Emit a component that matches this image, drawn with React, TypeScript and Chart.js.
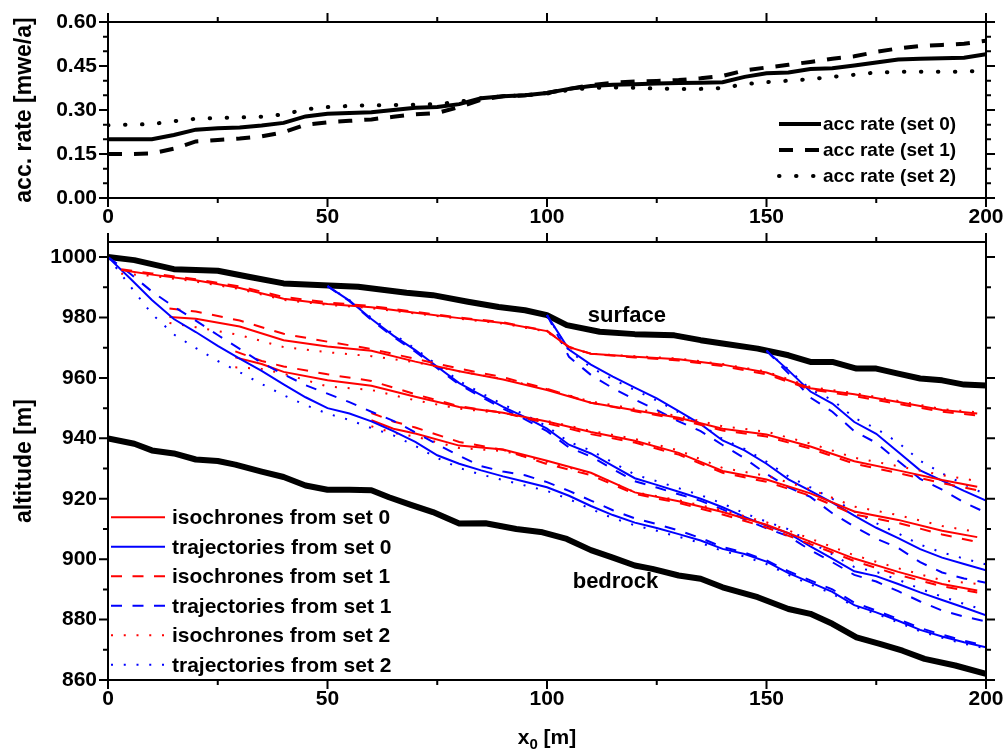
import { useEffect, useRef } from 'react';
import { Chart, registerables } from 'chart.js';

Chart.register(...registerables);

const FONT_FAMILY = '"Liberation Sans", Arial, Helvetica, sans-serif';

// ---------- accumulation rate panel ----------
const ACC_X = [0, 5, 10, 15, 20, 25, 30, 35, 40, 45, 50, 55, 60, 65, 70, 75, 80, 85, 90, 95, 100,
  105, 110, 115, 120, 125, 130, 135, 140, 145, 150, 155, 160, 165, 170, 175, 180, 185, 190, 195, 200];
const ACC_SET0 = [0.200, 0.200, 0.200, 0.215, 0.233, 0.238, 0.240, 0.247, 0.256, 0.278, 0.287, 0.290, 0.292,
  0.300, 0.308, 0.310, 0.320, 0.340, 0.347, 0.350, 0.358, 0.372, 0.382, 0.386, 0.388, 0.390, 0.392, 0.393,
  0.395, 0.413, 0.425, 0.428, 0.440, 0.442, 0.452, 0.462, 0.472, 0.475, 0.476, 0.478, 0.490];
const ACC_SET1 = [0.150, 0.150, 0.152, 0.168, 0.193, 0.198, 0.203, 0.210, 0.224, 0.250, 0.258, 0.263, 0.268,
  0.277, 0.285, 0.290, 0.310, 0.335, 0.347, 0.350, 0.358, 0.372, 0.385, 0.393, 0.397, 0.399, 0.402, 0.408,
  0.416, 0.435, 0.445, 0.454, 0.464, 0.475, 0.483, 0.498, 0.510, 0.518, 0.522, 0.526, 0.536];
const ACC_SET2 = [0.248, 0.250, 0.252, 0.262, 0.270, 0.273, 0.275, 0.277, 0.285, 0.302, 0.310, 0.314, 0.316,
  0.317, 0.318, 0.320, 0.328, 0.340, 0.347, 0.350, 0.356, 0.368, 0.375, 0.377, 0.376, 0.373, 0.372, 0.372,
  0.375, 0.388, 0.395, 0.400, 0.405, 0.413, 0.420, 0.428, 0.430, 0.430, 0.430, 0.431, 0.435];
const ACC_LABELS = ['acc rate (set 0)', 'acc rate (set 1)', 'acc rate (set 2)'];

// ---------- altitude panel ----------
const SURFACE_X = [0, 6, 15, 25, 32, 40, 49, 57, 68, 74, 82, 89, 95, 100, 104.5, 112, 120, 129, 135, 140,
  148, 155, 160, 165, 170.5, 175, 180, 185, 190, 195, 200];
const SURFACE_Z = [1000, 999, 996, 995.5, 993.5, 991.3, 990.7, 990.2, 988.2, 987.4, 985.2, 983.5, 982.4, 980.8,
  977.5, 975.3, 974.5, 974.1, 972.5, 971.4, 969.7, 967.5, 965.3, 965.3, 963.1, 963.1, 961.4, 959.8, 959.2,
  957.8, 957.5];
const BEDROCK_X = [0, 6, 10, 15, 20, 25, 29, 35, 40, 45, 50, 55, 60, 64, 69, 74, 80, 86, 93, 99, 104.5, 110,
  115, 120, 124, 130, 135, 140, 148, 155, 160, 165, 170.5, 176, 181, 186, 193, 200];
const BEDROCK_Z = [940, 938.2, 936, 935, 933, 932.5, 931.3, 929, 927.2, 924.4, 923, 923, 922.8, 920.5, 918,
  915.6, 911.8, 911.9, 910, 908.9, 906.7, 903, 900.5, 897.9, 896.8, 894.6, 893.5, 890.7, 887.4, 883.5, 881.9,
  878.6, 874.1, 871.9, 869.7, 867, 864.8, 862];
const SURFACE_NOTE = 'surface';
const BEDROCK_NOTE = 'bedrock';

// particle trajectories (starting points on the surface)
const TRAJ1_X = [0, 5, 10, 15, 20, 25, 30, 35, 40, 45, 50, 55, 60, 65, 70, 75, 80, 85, 90, 95, 100,
  105, 110, 115, 120, 125, 130, 135, 140, 145, 150, 155, 160, 165, 170, 175, 180, 185, 190, 195, 200];
const TRAJ1_SET0 = [1000, 993, 985.8, 979.5, 975.2, 970.6, 966.4, 962.3, 957.9, 953.6, 950.0, 948.2, 945.6,
  942.4, 938.8, 934.4, 931.6, 929.4, 927.4, 925.6, 923.8, 921.0, 917.6, 914.6, 912.1, 910.3, 908.3, 906.2,
  903.4, 901.7, 899.2, 895.4, 892.3, 889.2, 884.8, 882.4, 879.6, 876.6, 874.4, 872.5, 870.8];
const TRAJ1_SET1 = [1000, 994.6, 988.6, 983.6, 979, 974.2, 969.6, 965, 961.2, 957.6, 954.8, 952, 948.8, 945.8,
  942, 938, 934.2, 930.8, 929, 927.8, 925.5, 922.6, 919.4, 916.2, 913.5, 911.6, 909.5, 907, 904, 902.2, 899.6,
  896, 893, 890, 885.6, 883, 880.2, 877.2, 875, 873, 871.3];
const TRAJ1_SET2 = [1000, 990.5, 981.2, 974.4, 969.9, 965.6, 961.9, 958, 954.3, 951, 948.2, 946.1, 943.4, 941,
  937.5, 933.5, 930.2, 928, 926.2, 924.4, 922.6, 919.9, 916.6, 913.6, 911.2, 909.4, 907.4, 905.4, 902.7, 900.9,
  898.4, 894.8, 891.6, 888.6, 884.3, 881.9, 879.1, 876.1, 874, 872, 870.5];

const TRAJ2_X = [50, 55, 60, 65, 70, 75, 80, 85, 90, 95, 100, 105, 110, 115, 120, 125, 130, 135, 140, 145,
  150, 155, 160, 165, 170, 175, 180, 185, 190, 195, 200];
const TRAJ2_SET0 = [990.4, 985.6, 979.5, 974, 969.2, 963.7, 958.3, 954.3, 950.4, 947, 943.2, 937.9, 935, 930.9,
  926.8, 924.6, 922.3, 920, 917.2, 914, 911.1, 908.6, 904.2, 900.2, 896, 894.4, 891.8, 889, 886.5, 884, 881.4];
const TRAJ2_SET1 = [990.4, 985.4, 979.2, 973.6, 968.7, 963.2, 957.8, 953.7, 949.8, 946.3, 942.4, 937, 934, 929.8,
  925.8, 923.7, 921.5, 919.3, 916.5, 913.2, 910.2, 907.6, 903, 899, 894.8, 892.6, 889.4, 886, 883, 881, 879.4];
const TRAJ2_SET2 = [990.4, 985.8, 979.9, 974.5, 969.7, 964.3, 959, 955, 951.2, 947.8, 944, 938.8, 936, 932,
  928, 925.8, 923.5, 921.2, 918.4, 915.2, 912.4, 909.9, 905.6, 901.6, 897.4, 895.8, 893.2, 890.2, 887.6,
  885.2, 883];

const TRAJ3_X = [100, 105, 110, 115, 120, 125, 130, 135, 140, 145, 150, 155, 160, 165, 170, 175, 180, 185,
  190, 195, 200];
const TRAJ3_SET0 = [980.8, 969.4, 964.4, 960.4, 956.8, 953.2, 949, 944.7, 939.3, 936, 931.6, 926.4, 922.6,
  918.7, 914.4, 910.4, 907, 903.3, 900.5, 898.4, 896.3];
const TRAJ3_SET1 = [980.8, 967, 961, 956.6, 952.8, 949.4, 945.6, 942.4, 937.8, 933.4, 928.2, 923.8, 920.6,
  915.2, 910.8, 906.8, 903.7, 899, 895.6, 893.6, 892.2];
const TRAJ3_SET2 = [980.8, 969, 963.5, 959.5, 956, 952.5, 948.6, 944.6, 939.8, 936.5, 932.3, 927.4, 923.8,
  920, 915.8, 911.9, 908.5, 904.8, 902.2, 900.2, 898.3];

const TRAJ4_X = [150, 155, 160, 165, 170, 175, 180, 185, 190, 195, 200];
const TRAJ4_SET0 = [969, 962.5, 955.5, 951.5, 945.4, 941.5, 935.5, 929.4, 926, 922.6, 919.4];
const TRAJ4_SET1 = [969, 961.5, 953.5, 948.8, 942.4, 938.5, 932.5, 926.6, 923, 918.8, 915.4];
const TRAJ4_SET2 = [969, 962.8, 956.2, 952.7, 946.8, 943.2, 938.6, 932.6, 928.4, 924.8, 921.4];

// isochrones
const ISO1_X = [3, 10, 20, 30, 40, 50, 60, 70, 80, 90, 100, 105, 110, 120, 130, 140, 150, 160, 170, 180, 190, 198];
const ISO1_SET0 = [995.7, 994.2, 992.3, 989.8, 986.2, 984.5, 983.4, 981.6, 979.8, 978.2, 975.5, 970.2, 968, 967,
  966.2, 964.4, 961.8, 956.6, 954.6, 952, 949.4, 948.2];
const ISO1_SET1 = [996, 994.6, 992.7, 990.3, 986.8, 985, 983.8, 981.9, 980, 978.4, 975.6, 970.3, 968, 966.8,
  965.8, 963.9, 961.2, 956.2, 954, 951.4, 948.8, 947.6];
const ISO1_SET2 = [994.5, 993.8, 991.9, 989.4, 985.8, 984.2, 983.1, 981.3, 979.6, 978, 975.3, 970, 968, 967.2,
  966.4, 964.6, 962.1, 957, 955, 952.4, 949.7, 948.6];

const ISO2_X = [14, 20, 30, 40, 50, 60, 70, 80, 90, 100, 110, 120, 130, 140, 150, 160, 170, 180, 190, 198];
const ISO2_SET0 = [980.2, 979.6, 977, 972.5, 970.4, 969, 965.4, 962.2, 959.5, 956, 951.8, 949.3, 946.8, 943.2,
  941.3, 937.3, 932.4, 929.4, 926.2, 924];
const ISO2_SET1 = [983, 982, 979, 974.6, 972, 969.6, 966.3, 963.1, 960.2, 956.4, 951.8, 949, 946.3, 942.6,
  940.6, 936.6, 931.6, 928.5, 925.2, 922.8];
const ISO2_SET2 = [978.2, 976.8, 974.2, 970.2, 968.5, 967.2, 965.2, 962.2, 959.6, 956.3, 952.2, 949.8, 947.4,
  944, 942.2, 938.3, 933.6, 930.8, 927.8, 925.9];

const ISO3_X = [29, 35, 40, 50, 60, 70, 80, 90, 100, 110, 120, 130, 140, 150, 160, 170, 180, 190, 198];
const ISO3_SET0 = [966.8, 964.6, 962, 959.2, 957.4, 953.8, 950.4, 948.5, 945.6, 942.1, 939.2, 935.2, 929.2,
  926.4, 921.8, 915.8, 913, 909.4, 907.3];
const ISO3_SET1 = [968.8, 965.6, 963.8, 961.2, 959, 954.6, 950.6, 948.5, 945, 941.4, 938.6, 934.6, 928.6,
  925.6, 921, 914.8, 912, 908.2, 905.7];
const ISO3_SET2 = [963.5, 963, 961.4, 957.2, 956, 952.6, 949.8, 948.3, 945.8, 942.5, 939.8, 936, 930.2,
  927.6, 923.2, 917.4, 914.6, 911, 909];

const ISO4_X = [60, 65, 70, 80, 90, 100, 110, 120, 130, 140, 150, 160, 170, 180, 190, 198];
const ISO4_SET0 = [946, 943.2, 941.6, 937.6, 936.3, 932.6, 928.6, 922.1, 919.2, 915.6, 911.4, 905.8, 900.2,
  895.8, 891.8, 889.6];
const ISO4_SET1 = [948.4, 945.6, 943.6, 938.8, 936.2, 931.5, 927.8, 921.6, 918.6, 914.8, 910.5, 905, 899.4,
  894.8, 891, 889];
const ISO4_SET2 = [944, 941.8, 940.6, 936.8, 935.8, 932.2, 928.4, 922.2, 919.5, 916.2, 912.2, 906.8, 901.3,
  897, 893, 891.8];

// ---------- styling ----------
const RED = '#ff0000';
const BLUE = '#0000ff';
const SET_DASH: number[][] = [[], [11, 10.5], [2, 10.75]];

type Pt = { x: number; y: number };
const pts = (xs: number[], ys: number[]): Pt[] => xs.map((x, i) => ({ x, y: ys[i] }));

function profileLine(label: string, xs: number[], ys: number[], color: string, set: number, legendText?: string) {
  return {
    label,
    legendText,
    data: pts(xs, ys),
    borderColor: color,
    backgroundColor: color,
    borderWidth: 2,
    borderDash: SET_DASH[set],
    pointRadius: 0,
    tension: 0,
    fill: false,
    order: 1,
  };
}

function boundaryLine(label: string, xs: number[], ys: number[]) {
  return {
    label,
    data: pts(xs, ys),
    borderColor: '#000',
    backgroundColor: '#000',
    borderWidth: 6,
    borderJoinStyle: 'round',
    pointRadius: 0,
    tension: 0,
    fill: false,
    order: 5,
  };
}

// y tick labels sit 11px left of the axis; x tick labels are centred 19.5px below it
const yTickFont = { family: FONT_FAMILY, size: 21, weight: 'bold', lineHeight: 1 } as any;
const xTickFont = { family: FONT_FAMILY, size: 21, weight: 'bold', lineHeight: 39 / 21 } as any;
const titleFont = { family: FONT_FAMILY, size: 23, weight: 'bold' } as any;

// frame around the plot area with major/minor tick marks pointing outwards on every side
function makeFrameTicks(xMinor: number, yMinor: number) {
  const MAJOR = 9;
  const MINOR = 5;
  return {
    id: 'frameTicks',
    afterDraw(chart: any) {
      const { ctx, chartArea, scales } = chart;
      const { left, right, top, bottom } = chartArea;
      const sx = scales.x;
      const sy = scales.y;
      ctx.save();
      ctx.strokeStyle = '#000';
      ctx.lineWidth = 2;
      ctx.setLineDash([]);
      ctx.strokeRect(left, top, right - left, bottom - top);
      ctx.beginPath();
      const xMajor = sx.ticks.map((t: any) => t.value);
      const nx = Math.floor((sx.max - sx.min) / xMinor + 1e-6);
      for (let i = 0; i <= nx; i++) {
        const v = sx.min + i * xMinor;
        const len = xMajor.some((m: number) => Math.abs(m - v) < 1e-6) ? MAJOR : MINOR;
        const px = sx.getPixelForValue(v);
        ctx.moveTo(px, bottom);
        ctx.lineTo(px, bottom + len);
        ctx.moveTo(px, top);
        ctx.lineTo(px, top - len);
      }
      const yMajor = sy.ticks.map((t: any) => t.value);
      const ny = Math.floor((sy.max - sy.min) / yMinor + 1e-6);
      for (let i = 0; i <= ny; i++) {
        const v = sy.min + i * yMinor;
        const len = yMajor.some((m: number) => Math.abs(m - v) < 1e-6) ? MAJOR : MINOR;
        const py = sy.getPixelForValue(v);
        ctx.moveTo(left, py);
        ctx.lineTo(left - len, py);
        ctx.moveTo(right, py);
        ctx.lineTo(right + len, py);
      }
      ctx.stroke();
      ctx.restore();
    },
  };
}

// line-sample legend drawn inside the plot area
function makeLineLegend(cfg: { fromRight: boolean; dx: number; dy: number; row: number; sample: number; gap: number; size: number }) {
  return {
    id: 'lineLegend',
    afterDraw(chart: any) {
      const { ctx, chartArea } = chart;
      const items = chart.data.datasets.filter((d: any) => d.legendText);
      const x0 = cfg.fromRight ? chartArea.right - cfg.dx : chartArea.left + cfg.dx;
      ctx.save();
      ctx.font = `bold ${cfg.size}px ${FONT_FAMILY}`;
      ctx.textBaseline = 'middle';
      ctx.textAlign = 'left';
      items.forEach((d: any, i: number) => {
        const y = chartArea.top + cfg.dy + i * cfg.row;
        ctx.beginPath();
        ctx.setLineDash(d.borderDash || []);
        ctx.lineCap = d.borderCapStyle || 'butt';
        ctx.lineWidth = d.borderWidth;
        ctx.strokeStyle = d.borderColor;
        ctx.moveTo(x0, y);
        ctx.lineTo(x0 + cfg.sample, y);
        ctx.stroke();
        ctx.setLineDash([]);
        ctx.fillStyle = '#000';
        ctx.fillText(d.legendText, x0 + cfg.sample + cfg.gap, y + 1);
      });
      ctx.restore();
    },
  };
}

// text labels placed at data coordinates
function makeNotes(items: { text: string; x: number; y: number }[], size: number) {
  return {
    id: 'notes',
    afterDatasetsDraw(chart: any) {
      const { ctx, scales } = chart;
      ctx.save();
      ctx.font = `bold ${size}px ${FONT_FAMILY}`;
      ctx.fillStyle = '#000';
      ctx.textAlign = 'center';
      ctx.textBaseline = 'middle';
      items.forEach((n) => ctx.fillText(n.text, scales.x.getPixelForValue(n.x), scales.y.getPixelForValue(n.y)));
      ctx.restore();
    },
  };
}

// x-axis title with a subscript
function makeSubscriptTitle(base: string, sub: string, rest: string, offset: number) {
  return {
    id: 'subscriptTitle',
    afterDraw(chart: any) {
      const { ctx, chartArea } = chart;
      const cx = (chartArea.left + chartArea.right) / 2;
      const y = chartArea.bottom + offset;
      const mainFont = `bold 21px ${FONT_FAMILY}`;
      const subFont = `bold 15px ${FONT_FAMILY}`;
      ctx.save();
      ctx.fillStyle = '#000';
      ctx.textBaseline = 'alphabetic';
      ctx.textAlign = 'left';
      ctx.font = mainFont;
      const w1 = ctx.measureText(base).width;
      const w3 = ctx.measureText(rest).width;
      ctx.font = subFont;
      const w2 = ctx.measureText(sub).width;
      let x = cx - (w1 + w2 + w3) / 2;
      ctx.font = mainFont;
      ctx.fillText(base, x, y);
      x += w1;
      ctx.font = subFont;
      ctx.fillText(sub, x, y + 5);
      x += w2;
      ctx.font = mainFont;
      ctx.fillText(rest, x, y);
      ctx.restore();
    },
  };
}

function xScale(height: number) {
  return {
    type: 'linear',
    min: 0,
    max: 200,
    grid: { display: false, drawTicks: false },
    border: { display: false },
    ticks: { stepSize: 50, padding: 0, maxRotation: 0, color: '#000', font: xTickFont, callback: (v: any) => String(v) },
    afterFit: (s: any) => { s.height = height; },
  };
}

function topConfig(): any {
  const accLine = (label: string, ys: number[], dash: number[], cap: string) => ({
    label,
    legendText: label,
    data: pts(ACC_X, ys),
    borderColor: '#000',
    backgroundColor: '#000',
    borderWidth: 4,
    borderDash: dash,
    borderCapStyle: cap,
    pointRadius: 0,
    tension: 0,
    fill: false,
  });
  return {
    type: 'line',
    data: {
      datasets: [
        accLine(ACC_LABELS[0], ACC_SET0, [], 'butt'),
        accLine(ACC_LABELS[1], ACC_SET1, [14, 12], 'butt'),
        accLine(ACC_LABELS[2], ACC_SET2, [0.5, 16.5], 'round'),
      ],
    },
    options: {
      responsive: false,
      devicePixelRatio: 1,
      animation: false,
      events: [],
      layout: { padding: { top: 22, right: 19, left: 0, bottom: 0 } },
      plugins: { legend: { display: false }, tooltip: { enabled: false } },
      scales: {
        x: xScale(30),
        y: {
          type: 'linear',
          min: 0,
          max: 0.6,
          grid: { display: false, drawTicks: false },
          border: { display: false },
          ticks: { stepSize: 0.15, padding: 11, color: '#000', font: yTickFont, callback: (v: any) => Number(v).toFixed(2) },
          title: { display: true, text: 'acc. rate [mwe/a]', color: '#000', font: titleFont, padding: { top: 11, bottom: 0 } },
          afterFit: (s: any) => { s.width = 108; },
        },
      },
    },
    plugins: [
      makeFrameTicks(25, 0.05),
      makeLineLegend({ fromRight: true, dx: 207, dy: 102, row: 26, sample: 42, gap: 2, size: 19 }),
    ],
  };
}

function bottomConfig(): any {
  return {
    type: 'line',
    data: {
      datasets: [
        profileLine('isochrone 1, set 0', ISO1_X, ISO1_SET0, RED, 0, 'isochrones from set 0'),
        profileLine('trajectory 1, set 0', TRAJ1_X, TRAJ1_SET0, BLUE, 0, 'trajectories from set 0'),
        profileLine('isochrone 1, set 1', ISO1_X, ISO1_SET1, RED, 1, 'isochrones from set 1'),
        profileLine('trajectory 1, set 1', TRAJ1_X, TRAJ1_SET1, BLUE, 1, 'trajectories from set 1'),
        profileLine('isochrone 1, set 2', ISO1_X, ISO1_SET2, RED, 2, 'isochrones from set 2'),
        profileLine('trajectory 1, set 2', TRAJ1_X, TRAJ1_SET2, BLUE, 2, 'trajectories from set 2'),
        profileLine('isochrone 2, set 0', ISO2_X, ISO2_SET0, RED, 0),
        profileLine('isochrone 2, set 1', ISO2_X, ISO2_SET1, RED, 1),
        profileLine('isochrone 2, set 2', ISO2_X, ISO2_SET2, RED, 2),
        profileLine('isochrone 3, set 0', ISO3_X, ISO3_SET0, RED, 0),
        profileLine('isochrone 3, set 1', ISO3_X, ISO3_SET1, RED, 1),
        profileLine('isochrone 3, set 2', ISO3_X, ISO3_SET2, RED, 2),
        profileLine('isochrone 4, set 0', ISO4_X, ISO4_SET0, RED, 0),
        profileLine('isochrone 4, set 1', ISO4_X, ISO4_SET1, RED, 1),
        profileLine('isochrone 4, set 2', ISO4_X, ISO4_SET2, RED, 2),
        profileLine('trajectory 2, set 0', TRAJ2_X, TRAJ2_SET0, BLUE, 0),
        profileLine('trajectory 2, set 1', TRAJ2_X, TRAJ2_SET1, BLUE, 1),
        profileLine('trajectory 2, set 2', TRAJ2_X, TRAJ2_SET2, BLUE, 2),
        profileLine('trajectory 3, set 0', TRAJ3_X, TRAJ3_SET0, BLUE, 0),
        profileLine('trajectory 3, set 1', TRAJ3_X, TRAJ3_SET1, BLUE, 1),
        profileLine('trajectory 3, set 2', TRAJ3_X, TRAJ3_SET2, BLUE, 2),
        profileLine('trajectory 4, set 0', TRAJ4_X, TRAJ4_SET0, BLUE, 0),
        profileLine('trajectory 4, set 1', TRAJ4_X, TRAJ4_SET1, BLUE, 1),
        profileLine('trajectory 4, set 2', TRAJ4_X, TRAJ4_SET2, BLUE, 2),
        boundaryLine(SURFACE_NOTE, SURFACE_X, SURFACE_Z),
        boundaryLine(BEDROCK_NOTE, BEDROCK_X, BEDROCK_Z),
      ],
    },
    options: {
      responsive: false,
      devicePixelRatio: 1,
      animation: false,
      events: [],
      layout: { padding: { top: 22, right: 19, left: 0, bottom: 0 } },
      plugins: { legend: { display: false }, tooltip: { enabled: false } },
      scales: {
        x: xScale(69),
        y: {
          type: 'linear',
          min: 860,
          max: 1005,
          grid: { display: false, drawTicks: false },
          border: { display: false },
          ticks: { stepSize: 20, includeBounds: false, padding: 11, color: '#000', font: yTickFont, callback: (v: any) => String(v) },
          title: { display: true, text: 'altitude [m]', color: '#000', font: titleFont, padding: { top: 11, bottom: 0 } },
          afterFit: (s: any) => { s.width = 108; },
        },
      },
    },
    plugins: [
      makeFrameTicks(25, 10),
      makeNotes([
        { text: SURFACE_NOTE, x: 118.2, y: 980.4 },
        { text: BEDROCK_NOTE, x: 115.6, y: 892.3 },
      ], 22),
      makeLineLegend({ fromRight: false, dx: 3, dy: 275.3, row: 29.5, sample: 54, gap: 7, size: 21 }),
      makeSubscriptTitle('x', '0', ' [m]', 64),
    ],
  };
}

export default function App() {
  const topRef = useRef<HTMLCanvasElement>(null);
  const bottomRef = useRef<HTMLCanvasElement>(null);

  useEffect(() => {
    const top = new Chart(topRef.current as HTMLCanvasElement, topConfig());
    const bottom = new Chart(bottomRef.current as HTMLCanvasElement, bottomConfig());
    return () => {
      top.destroy();
      bottom.destroy();
    };
  }, []);

  return (
    <div style={{ position: 'fixed', left: 0, top: 0, width: 1005, height: 749, background: '#fff', overflow: 'hidden' }}>
      <canvas
        ref={topRef}
        width={1005}
        height={228}
        style={{ position: 'absolute', left: 0, top: 0, width: 1005, height: 228 }}
      />
      <canvas
        ref={bottomRef}
        width={1005}
        height={529}
        style={{ position: 'absolute', left: 0, top: 220, width: 1005, height: 529 }}
      />
    </div>
  );
}
